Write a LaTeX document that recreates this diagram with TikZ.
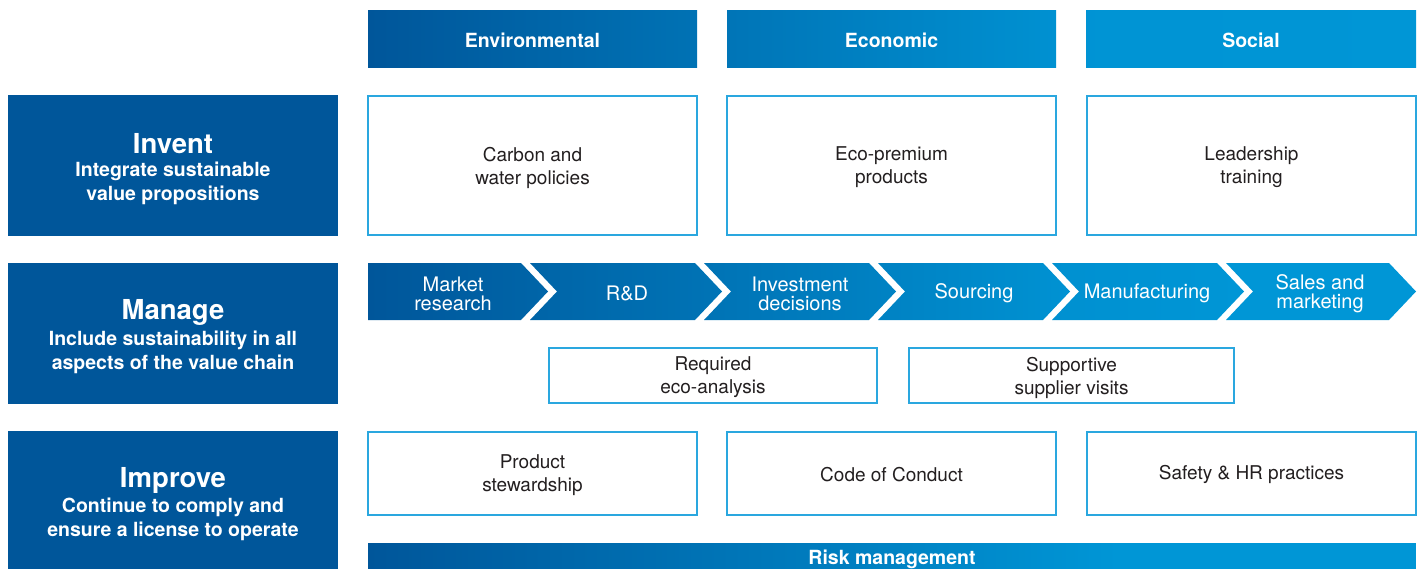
\documentclass[tikz,border=0pt]{standalone}
\usepackage{fontspec}
\setmainfont{TeX Gyre Heros}
\definecolor{dk}{HTML}{00569A}
\definecolor{lt}{HTML}{0096D6}
\definecolor{bx}{HTML}{2AA7DF}
\definecolor{tx}{HTML}{231F20}
\definecolor{lbox}{HTML}{00569A}
\tikzset{
  catbox/.style={draw=bx, line width=1.3pt, fill=white, inner sep=0pt, outer sep=0pt},
  boxtxt/.style={text=tx, align=center, font=\fontsize{19}{23}\selectfont,
    inner sep=0pt, yshift=-2pt},
  leftbox/.style={fill=lbox, draw=none, inner sep=0pt, outer sep=0pt,
    minimum width=330pt},
  ltitle/.style={text=white, font=\fontsize{27.5}{28}\selectfont\bfseries, inner sep=0pt},
  lsub/.style={text=white, align=center, font=\fontsize{19.5}{24}\selectfont\bfseries, inner sep=0pt},
  headtxt/.style={text=white, font=\fontsize{19.5}{22}\selectfont\bfseries, inner sep=0pt},
  chevtxt/.style={text=white, align=center, font=\fontsize{20}{19}\selectfont, inner sep=0pt},
}
\begin{document}
\begin{tikzpicture}[x=1pt,y=-1pt]
\useasboundingbox (0,0) rectangle (1423,569);

% left boxes
\node[leftbox, minimum height=141pt] (invent) at (173,165.5) {};
\node[ltitle] (inventT) at (173,144) {Invent};
\node[lsub] (inventS) at (173,183) {Integrate sustainable\\value propositions};

\node[leftbox, minimum height=141pt] (manage) at (173,333.5) {};
\node[ltitle] (manageT) at (173,312) {Manage};
\node[lsub] (manageS) at (173,352) {Include sustainability in all\\aspects of the value chain};

\node[leftbox, minimum height=140pt] (improve) at (173,501) {};
\node[ltitle] (improveT) at (173,480) {Improve};
\node[lsub] (improveS) at (173,519) {Continue to comply and\\ensure a license to operate};

% headers
\shade[left color=dk, right color=lt!44!dk] (368,11) rectangle (697,68);
\node[headtxt] (env) at (532.5,40) {Environmental};
\shade[left color=lt!48!dk, right color=lt!92!dk] (727,11) rectangle (1056,68);
\node[headtxt] (eco) at (891.5,40) {Economic};
\shade[left color=lt!96!dk, right color=lt] (1086,11) rectangle (1416,68);
\node[headtxt] (soc) at (1251,40) {Social};

% invent row
\node[catbox, minimum width=329pt, minimum height=139pt] (carbon) at (532.5,165.5) {};
\node[boxtxt] (carbonT) at (carbon) {Carbon and\\water policies};
\node[catbox, minimum width=329pt, minimum height=139pt] (ecoprem) at (891.5,165.5) {};
\node[boxtxt] (ecopremT) at (ecoprem) {Eco-premium\\products};
\node[catbox, minimum width=329pt, minimum height=139pt] (lead) at (1251.5,165.5) {};
\node[boxtxt] (leadT) at (lead) {Leadership\\training};

% chevrons
\shade[left color=dk, right color=lt!24!dk]
  (368,263) -- (521,263) -- (548,291.5) -- (521,320) -- (368,320) -- cycle;
\shade[left color=lt!22!dk, right color=lt!47!dk]
  (530,263) -- (695,263) -- (722,291.5) -- (695,320) -- (530,320) -- (557,291.5) -- cycle;
\shade[left color=lt!45!dk, right color=lt!70!dk]
  (704,263) -- (869,263) -- (896,291.5) -- (869,320) -- (704,320) -- (731,291.5) -- cycle;
\shade[left color=lt!68!dk, right color=lt!94!dk]
  (878,263) -- (1043,263) -- (1070,291.5) -- (1043,320) -- (878,320) -- (905,291.5) -- cycle;
\shade[left color=lt!91!dk, right color=lt]
  (1052,263) -- (1217,263) -- (1244,291.5) -- (1217,320) -- (1052,320) -- (1079,291.5) -- cycle;
\fill[lt]
  (1226,263) -- (1389,263) -- (1416,291.5) -- (1389,320) -- (1226,320) -- (1253,291.5) -- cycle;
\node[chevtxt] (mr) at (453,293.5) {Market\\research};
\node[chevtxt] (rd) at (627,293.5) {R\&D};
\node[chevtxt] (inv) at (800,293.5) {Investment\\decisions};
\node[chevtxt] (src) at (974,293.5) {Sourcing};
\node[chevtxt] (man) at (1147,293.5) {Manufacturing};
\node[chevtxt] (sal) at (1320,293.5) {Sales and\\marketing};

% manage sub-boxes
\node[catbox, minimum width=328pt, minimum height=55pt] (req) at (713,375.5) {};
\node[boxtxt] (reqT) at (req) {Required\\eco-analysis};
\node[catbox, minimum width=325pt, minimum height=55pt] (sup) at (1071.5,375.5) {};
\node[boxtxt] (supT) at (sup) {Supportive\\supplier visits};

% improve row
\node[catbox, minimum width=329pt, minimum height=83pt] (prod) at (532.5,473.5) {};
\node[boxtxt] (prodT) at (prod) {Product\\stewardship};
\node[catbox, minimum width=329pt, minimum height=83pt] (code) at (891.5,473.5) {};
\node[boxtxt, yshift=1pt] (codeT) at (code) {Code of Conduct};
\node[catbox, minimum width=329pt, minimum height=83pt] (safe) at (1251.5,473.5) {};
\node[boxtxt, yshift=1pt] (safeT) at (safe) {Safety \& HR practices};

% risk bar
\shade[left color=dk, right color=lt] (368,543) rectangle (1118,569);
\fill[lt] (1117.5,543) rectangle (1416,569);
\node[headtxt, anchor=base] (risk) at (892,564.5) {Risk management};
\end{tikzpicture}
\end{document}
